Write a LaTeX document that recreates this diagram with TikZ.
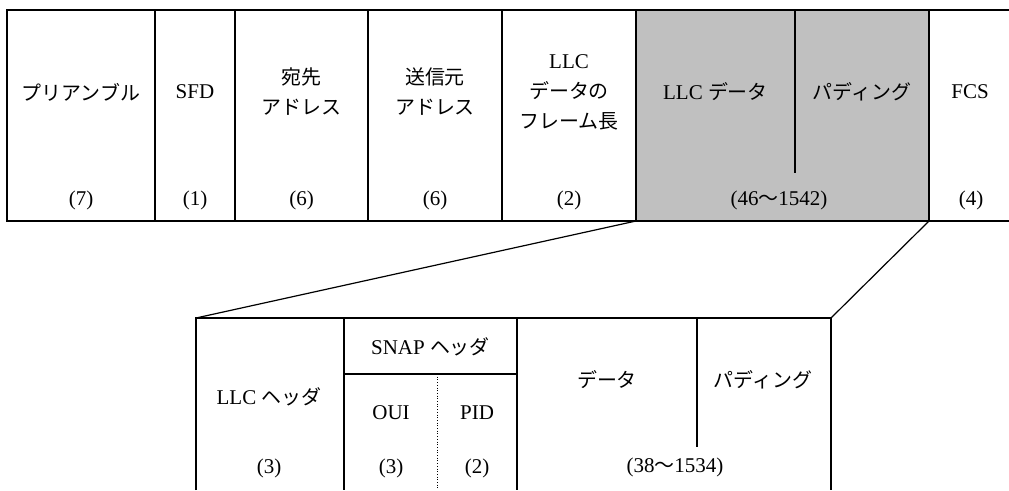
\documentclass[tikz,border=0pt]{standalone}
\usepackage{fontspec}
\setmainfont{Liberation Serif}
\newfontfamily\jp[Scale=0.95]{Noto Sans CJK JP}
\begin{document}
\begin{tikzpicture}[x=1pt,y=-1pt]
\newcommand{\ylabel}{92}
\newcommand{\ysize}{200}
\tikzstyle{frame}=[line width=2pt]
\tikzstyle{zoomline}=[line width=1.2pt]
\tikzstyle{subfield}=[line width=0.7pt,dotted]
\tikzstyle{field}=[align=center,inner sep=0pt,font=\fontsize{21}{30}\selectfont]
\definecolor{llcgray}{RGB}{192,192,192}
\useasboundingbox (0,0) rectangle (1009,490);
% Ethernet frame
\fill[llcgray] (636,10) rectangle (929,221);
\draw[frame] (1009,10) -- (7,10) -- (7,221) -- (1009,221);
\draw[frame] (155,10) -- (155,221);
\draw[frame] (235,10) -- (235,221);
\draw[frame] (368,10) -- (368,221);
\draw[frame] (502,10) -- (502,221);
\draw[frame] (636,10) -- (636,221);
\draw[frame] (795,10) -- (795,173);
\draw[frame] (929,10) -- (929,221);
\coordinate (llcleft) at (636,221);
\coordinate (llcright) at (929,221);
\node[field] (preamble) at (81,\ylabel) {\jp プリアンブル};
\node[field] (sfd) at (195,\ylabel) {SFD};
\node[field] (dst) at (301.5,\ylabel) {\jp 宛先\\\jp アドレス};
\node[field] (src) at (435,\ylabel) {\jp 送信元\\\jp アドレス};
\node[field] (len) at (569,\ylabel) {LLC\\\jp データの\\\jp フレーム長};
\node[field] (llcdata) at (715.5,\ylabel) {LLC {\jp データ}};
\node[field] (pad) at (862,\ylabel) {\jp パディング};
\node[field] (fcs) at (970,\ylabel) {FCS};
\node[field] (preamblesize) at (81,\ysize) {(7)};
\node[field] (sfdsize) at (195,\ysize) {(1)};
\node[field] (dstsize) at (301.5,\ysize) {(6)};
\node[field] (srcsize) at (435,\ysize) {(6)};
\node[field] (lensize) at (569,\ysize) {(2)};
\node[field] (llcsize) at (779,\ysize) {(46{\jp 〜}1542)};
\node[field] (fcssize) at (971,\ysize) {(4)};
% LLC/SNAP detail
\draw[frame] (196,490) -- (196,318) -- (831,318) -- (831,490);
\draw[frame] (344,318) -- (344,490);
\draw[frame] (517,318) -- (517,490);
\draw[frame] (344,374) -- (517,374);
\draw[frame] (697,318) -- (697,447);
\draw[subfield] (437,374) -- (437,490);
\coordinate (subleft) at (196,318);
\coordinate (subright) at (831,318);
\draw[zoomline] (llcleft) -- (subleft);
\draw[zoomline] (llcright) -- (subright);
\node[field] (llchdr) at (269,397) {LLC {\jp ヘッダ}};
\node[field] (snaphdr) at (430.5,347) {SNAP {\jp ヘッダ}};
\node[field] (oui) at (391,413) {OUI};
\node[field] (pid) at (477,413) {PID};
\node[field] (data) at (607,380) {\jp データ};
\node[field] (subpad) at (763,380) {\jp パディング};
\node[field] (llchdrsize) at (269,468) {(3)};
\node[field] (ouisize) at (391,468) {(3)};
\node[field] (pidsize) at (477,468) {(2)};
\node[field] (datasize) at (675,467) {(38{\jp 〜}1534)};
\end{tikzpicture}
\end{document}
